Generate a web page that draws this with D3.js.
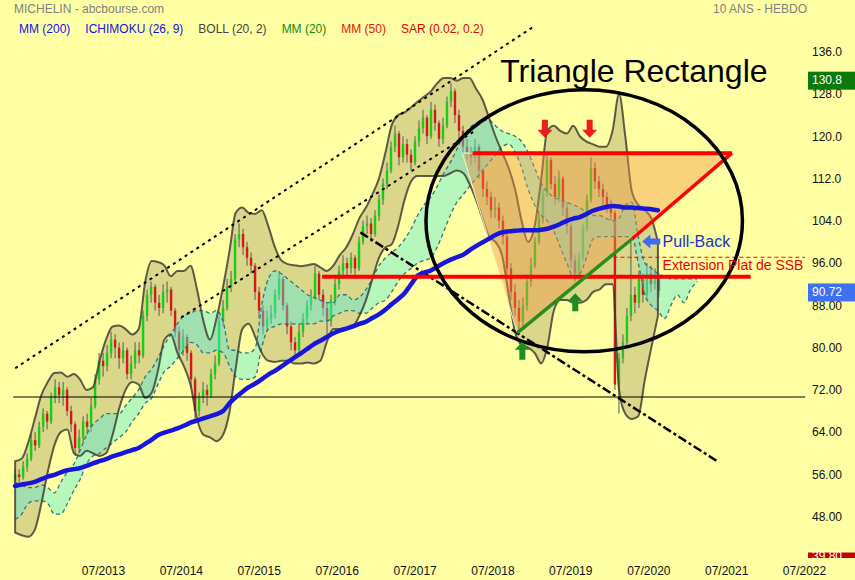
<!DOCTYPE html>
<html><head><meta charset="utf-8">
<script src="https://cdn.jsdelivr.net/npm/d3@7"></script>
<style>
html,body{margin:0;padding:0;background:#ffffa5;}
svg{display:block;font-family:"Liberation Sans",Arial,sans-serif;}
</style></head><body>
<svg id="c" width="855" height="580"></svg>
<script>
// ---------- DATA ----------
const candleStart = new Date(2012, 4, 15);
const candleStepDays = 18.75;
const firstOpen = 55;
const close = [56,55.5,57.5,59,62.5,61.5,65,67.5,66,70.5,
72.5,71,72,68,65.5,61,63,66,65,69,
74,77.5,76.5,79,81.5,80,78,79.5,75,77,
79.5,78.5,86,90,91.5,88.5,87.5,90.5,91,87,
83,79.5,82,79,74,68,70.5,72,71,75,
77,85,87.5,91.5,93,100.5,101.5,99,97,95.5,
90.5,87,84,85.5,86.5,90,93,88,84,81,
79.5,83,85.5,88,89.5,94,90,87.5,85,89,
92,94.5,96,95,97,95,100,103,103.5,101.5,
105,108,111,113.5,118,120.5,116,118.5,116.5,115,
119,121.5,123.5,120,125,122.5,119.5,122,126.5,128.5,
124,121,118,117,116,118,113.5,110,108.5,106,
106.5,104,101,95,90.5,87.5,85,88,92.5,95.5,
100,104.5,109,115.5,111,108.5,112,106.5,103,96.5,
94,97,102.5,108,114,111.5,110,108.5,107,105.5,
73,78,81,86,90,88.5,93,90,94,92,
93.5,90.7];
const high = [57,57,58.5,60,63.5,64,66,68.5,68,71.5,
74,73.5,73.5,72.5,69,66,64.5,67,67.5,70.5,
75,79,79,80.5,83,82.5,81,81,80,78.5,
81,81,87,91,92.5,92,90,92,92.5,91.5,
87.5,84,83.5,82.5,79.5,74.5,71.5,73.5,73,76,
78.5,86,89,93,94.5,101.5,103.5,102.5,100,98,
96,91.5,88,87,88,91,94.5,93.5,88.5,85,
82,84.5,86.5,89,91,95.5,94.5,91,88.5,90,
93,95.5,97.5,97,98,97.5,101,104,105,104.5,
106,109,112,115,119,122,121,120,119.5,117.5,
120,123,125,124,126.5,126,123,123.5,127.5,130,
129,125,122,119.5,118,119.5,118.5,114,111.5,109.5,
108.5,107.5,105,101.5,96,92,89,89.5,93.5,97,
101,105.5,110,117,116,112.5,113.5,112.5,107.5,103.5,
97.5,98,103.5,109,116,115,112.5,111,109.5,108,
106,79,82.5,87.5,100,91.5,94.5,94,96,95.5,
95,94];
const low = [54.5,54.5,55,56.5,58.5,60.5,61,64,64.5,65.5,
69.5,69.5,69,67,64,59.5,60,62,63.5,64,
68.5,73,74.5,75.5,78,78,76,77,74,74,
76,77,78,85,88.5,87,86,86.5,88.5,86,
82,78,78.5,77.5,72.5,66,67,69.5,69,70.5,
74,76.5,84,87,90.5,92.5,99,97.5,95.5,94,
89,85.5,82.5,83,84.5,85.5,89,87,82.5,79.5,
78.5,79,82,84.5,87,89,89,86,82.5,84,
88,91,93.5,93.5,94,93,94.5,99.5,101.5,100,
101,104,107,110,113,117,114.5,115,115,113.5,
114.5,118,120.5,118.5,119.5,121,118,118.5,121.5,125.5,
122.5,119.5,116.5,115.5,114.5,115,112,108.5,107,104.5,
104.5,102.5,99.5,93.5,89,86,83,84,87,91.5,
95,99.5,103.5,108.5,110,107,107.5,105,101.5,95,
92.5,93,96.5,102,107.5,110,108.5,107,105.5,104,
72,67.5,77,80,85,86.5,87.5,88.5,89,90.5,
91,89.5];

// monthly indicator series, first month = May 2012
const bollUpper = [58.5,59,62,66.5,71,73.5,75.2,75.3,74.5,75,
74,72,72.5,77.5,81.5,84,84.2,83.5,82.5,83.5,
92.5,96.4,96.2,95.5,93.5,94.5,94.5,95.5,91,85,
81.5,85.5,91.5,98.5,105.5,106.5,105.5,105.3,106,103,
99,96.5,95.8,95.6,95.4,95.6,95.8,95.2,94.5,95.5,
97.5,99,101.5,104.5,106.5,109,112,117,122,124,
124.5,125.5,126.5,127.5,128.5,130,131,131,130.5,131,
131,129,127,123.5,120,117,114,110,104,100,
103,112,121,122,121,120.5,122,120,119,118.5,
118,118,121,128,120,109.5,107,106,104.5,100];
const bollLower = [45,44.5,44.2,45.5,50.5,56.5,61.5,64,64.5,60,
59.5,60.5,60,59.5,60,63.5,68.5,72,73.5,73,
70.5,71.5,75.5,81.5,82.5,79,76.5,73,66.5,63.5,
63,62.3,63.5,68,76,83.5,84.5,82,79,77.5,
77.3,77.5,77.5,77,77,77.2,77,77.5,81,83.5,
83.5,83.5,84,86,89,93,97,99,99.5,103,
108,111.5,112.5,112.5,112.5,112.5,112.5,113,113.5,113,
111,108,104.5,101,100,97.5,90,83,80.5,80,
79,77,80,87,89,89,88.5,88.5,89,90.5,
91,92,92,72,67.5,66.5,67,74,80,86];
const mm200 = [53.8,54.1,54.3,54.6,55.1,55.6,55.9,56.4,56.8,57,
57.2,57.6,58.1,58.5,58.9,59.4,59.8,60.2,60.6,61,
61.8,62.6,63.4,63.9,64.3,64.7,65.2,65.8,66.2,66.6,
67,67.4,68,69.5,70.6,71.6,72.5,73.2,74,74.9,
75.6,76.4,77.3,78.1,78.9,79.8,80.6,81.3,82,82.7,
83.2,83.6,84,84.5,84.9,85.6,86.3,87.2,88.2,89.2,
90.3,92,93.6,94.2,94.6,95.3,96,96.6,97.1,97.6,
98.4,99.2,99.9,100.6,101.3,101.8,102,102.1,102.2,102.2,
102.2,102.3,102.5,102.9,103.4,104,104.4,104.7,105.3,105.9,
106.3,106.6,106.8,106.7,106.5,106.5,106.4,106.3,106.2,106];
const cloudTop = [54.5,54,53.5,53.5,54,53.5,52.5,54.5,56.5,58,
60.5,63.5,65.5,66.5,67.5,67.5,67.5,69,70.5,72,
74.5,76,78,80.5,82.5,84.5,86,86.5,87,87,
86.5,87,85,79.5,79.5,79,79,80,88,93,
94.5,94,93,92,91,90,89.5,89,88.5,88.5,
90,90,89,89.5,91,93,95.5,97,98,99,
100.5,102.5,105,107,108.5,110.5,113,115,117.5,120,
121.5,122.5,123,123,122,121,120.5,120,119,117,
114,111,109.5,108.5,108,107.5,107,106.5,105.5,105,
105,104.5,104,104.5,107,107.5,101,96,95,94,
93.5,93,93,93,93,93];
const cloudBot = [47.5,48.5,50.5,51,51,50.5,48.5,48.5,50.5,53,
55,58,59.5,60,61,62,63,64,66,67.5,
69.5,70.5,73,75.5,76.5,78,79.5,81,80.5,79,
79,79.5,79,76.5,74.5,74,74,74.5,80,83.5,
84,84.5,84.5,84.5,84.5,84.5,84.5,85,85,86,
86.5,87,87,86.5,86.5,87.5,88.5,89,90.5,92.5,
94,95,96,96.5,97,99,102,105,107.5,109,
110.5,112,113.5,115,116.5,118,118.5,117,114,110,
107,105,104,102,99,96,93.5,94,97,100.5,
101,101,101,101,101,101,96,90,88,87,
85.5,88,90,88.5,91,92.5];

const yTicks = [136,128,120,112,104,96,88,80,72,64,56,48];
const yTickLabels = ["136.0","128.0","120.0","112.0","104.0","96.00","88.00","80.00","72.00","64.00","56.00","48.00"];
const xTickLabels = ["07/2013","07/2014","07/2015","07/2016","07/2017","07/2018","07/2019","07/2020","07/2021","07/2022"];
const legendLabels = ["MM (200)","ICHIMOKU (26, 9)","BOLL (20, 2)","MM (20)","MM (50)","SAR (0.02, 0.2)"];
const legendColors = ["#1414ee","#1414dd","#444444","#118811","#ee1111","#dd0000"];
const priceTags = [{v:130.8,t:"130.8",c:"#0b7a0b"},{v:90.72,t:"90.72",c:"#3f6ff2"},{v:39.8,t:"39.80",c:"#c40000"}];

// annotations (decimal year, value)
const channelUpper = [[2012.37,76.1],[2019.02,140.7]];
const channelLower = [[2014.50,85.7],[2018.27,121.0]];
const downTrend = [[2016.80,101.8],[2021.38,58.5]];
const hLine72 = [[2012.345,70.65],[2022.51,70.65]];
const triangle = [[2018.11,116.8],[2021.57,116.8],[2018.815,82.8]];
const resistance = [[2018.24,116.8],[2021.57,116.8]];
const neckline = [[2016.31,93.4],[2021.81,93.4]];
const riseGreen = [[2018.815,82.8],[2020.29,100.6]];
const riseRed = [[2020.29,100.6],[2021.57,116.8]];
const ssbExt = [[2020.05,97.1],[2022.51,97.1]];
const ellipseC = [2019.675,104.0], ellipseRx = 2.03, ellipseRy = 24.8;
const upArrows = [[2018.88,81.1],[2019.56,90.3]];
const downArrows = [[2019.17,119.7],[2019.745,119.7]];
const pullBackTip = [2020.42,100.1];
const pullBackText = [2020.68,99.0];
const extText = [2020.68,94.7];
const titlePos = [2018.595,130.3];

// ---------- CHART ----------
const svg = d3.select('#c');
const W = 855, H = 580;
const FONT = '"Liberation Sans",Arial,sans-serif';
const x = d3.scaleTime().domain([new Date(2013,6,1), new Date(2022,6,1)]).range([103,804]);
const y = d3.scaleLinear().domain([48,136]).range([516.7,51.7]);
const fromYear = t => { const y0 = Math.floor(t); const a = new Date(y0,0,1), b = new Date(y0+1,0,1); return new Date(a.getTime() + (t-y0)*(b-a)); };
const P = ([t,v]) => [x(fromYear(t)), y(v)];
const monthDate = m => new Date(2012, 4+m, 15);

svg.append('rect').attr('width',W).attr('height',H).attr('fill','#ffffa3');

// Bollinger fill
const band = bollUpper.map((u,i)=>({d:monthDate(i),u,l:bollLower[i]}));
const bandArea = d3.area().x(d=>x(d.d)).y0(d=>y(d.l)).y1(d=>y(d.u)).curve(d3.curveMonotoneX);
svg.append('path').datum(band).attr('d',bandArea).attr('fill','rgba(168,158,105,0.42)');

// candles
const candles = close.map((c,k)=>{
  const o = k ? close[k-1] : firstOpen;
  return {d:new Date(candleStart.getTime()+k*candleStepDays*864e5), o, c, h:Math.max(high[k],o,c), l:Math.min(low[k],o,c)};
});
const gc = svg.append('g');
gc.selectAll('line').data(candles).join('line')
  .attr('x1',d=>x(d.d)).attr('x2',d=>x(d.d))
  .attr('y1',d=>y(d.h)).attr('y2',d=>y(d.l))
  .attr('stroke','#5a5a5a').attr('stroke-width',1);
gc.selectAll('rect').data(candles).join('rect')
  .attr('x',d=>x(d.d)-1.2).attr('width',2.4)
  .attr('y',d=>y(Math.max(d.o,d.c)))
  .attr('height',d=>Math.max(1,Math.abs(y(d.o)-y(d.c))))
  .attr('fill',d=>d.c>=d.o?'#18cc18':'#d21a1a');

// Ichimoku cloud
const cloud = cloudTop.map((t,i)=>({d:monthDate(i),a:t,b:cloudBot[i]}));
const cloudArea = d3.area().x(d=>x(d.d)).y0(d=>y(d.b)).y1(d=>y(d.a)).curve(d3.curveMonotoneX);
svg.append('path').datum(cloud).attr('d',cloudArea).attr('fill','rgba(80,235,225,0.42)');
['a','b'].forEach(k=>{
  svg.append('path').datum(cloud)
    .attr('d',d3.line().x(d=>x(d.d)).y(d=>y(d[k])).curve(d3.curveMonotoneX))
    .attr('fill','none').attr('stroke','#2f7878').attr('stroke-width',1.3).attr('stroke-dasharray','4,3');
});

// Bollinger outline
svg.append('path').datum(band).attr('d',d=>bandArea(d)).attr('fill','none')
  .attr('stroke','rgba(55,55,45,0.8)').attr('stroke-width',2);

// lines helper
const seg = (pts, stroke, w, dash) => {
  const l = svg.append('path').attr('d', d3.line()(pts.map(P))).attr('fill','none')
    .attr('stroke',stroke).attr('stroke-width',w);
  if (dash) l.attr('stroke-dasharray',dash);
  return l;
};
seg(channelUpper,'#000',2,'3,4');
seg(channelLower,'#000',2,'3,4');
seg(downTrend,'#000',2.5,'9,3,3,3');
seg(hLine72,'#000',1);

// triangle
svg.append('path').attr('d', d3.line()(triangle.map(P))+'Z')
  .attr('fill','rgba(240,150,70,0.42)').attr('stroke','#fff1c8').attr('stroke-width',1);

// MM200 (drawn above the triangle so it stays blue)
svg.append('path').datum(mm200.map((v,i)=>({d:monthDate(i),v})))
  .attr('d',d3.line().x(d=>x(d.d)).y(d=>y(d.v)).curve(d3.curveMonotoneX))
  .attr('fill','none').attr('stroke','#1616dc').attr('stroke-width',4.5).attr('stroke-linecap','round');

seg(resistance,'#ff0000',4);
seg(neckline,'#ff0000',4);
seg(riseGreen,'#2a8c1a',3.5);
seg(riseRed,'#ff0000',3.5);
seg(ssbExt,'#ff0000',1,'4,3');

// ellipse
const [ecx,ecy] = P(ellipseC);
svg.append('ellipse').attr('cx',ecx).attr('cy',ecy)
  .attr('rx', P([ellipseC[0]+ellipseRx, ellipseC[1]])[0]-ecx)
  .attr('ry', P([ellipseC[0], ellipseC[1]-ellipseRy])[1]-ecy)
  .attr('fill','none').attr('stroke','#000').attr('stroke-width',3.5);

// arrows
const upShape = [[0,0],[7.5,8],[3,8],[3,18],[-3,18],[-3,8],[-7.5,8]];
const downShape = upShape.map(([a,b])=>[a,-b]);
const leftShape = [[0,0],[8,-7],[8,-3],[18,-3],[18,3],[8,3],[8,7]];
const arrow = (tip, shape, fill) => {
  const [tx,ty] = P(tip);
  svg.append('polygon').attr('points', shape.map(([a,b])=>(tx+a)+','+(ty+b)).join(' ')).attr('fill',fill);
};
upArrows.forEach(p=>arrow(p,upShape,'#1f8c1f'));
downArrows.forEach(p=>arrow(p,downShape,'#ee1c1c'));
arrow(pullBackTip,leftShape,'#3c6cf0');

// annotation texts
const txt = (pos, s, size, fill) => {
  const [tx,ty] = P(pos);
  return svg.append('text').attr('x',tx).attr('y',ty).attr('font-size',size).attr('fill',fill).attr('font-family',FONT).text(s);
};
txt(pullBackText,'Pull-Back',16,'#2233cc');
txt(extText,'Extension Plat de SSB',14,'#ee0000');
txt(titlePos,'Triangle Rectangle',32,'#000');

// y axis
const ya = svg.append('g').attr('transform','translate(812,0)')
  .call(d3.axisRight(y).tickValues(yTicks).tickFormat((d,i)=>yTickLabels[i]).tickSize(0).tickPadding(0));
ya.select('.domain').remove();
ya.selectAll('text').attr('font-size',12).attr('font-family',FONT).attr('fill','#111');

// x axis
const xDates = xTickLabels.map(s=>{const [mm,yy]=s.split('/'); return new Date(+yy, +mm-1, 1);});
const xa = svg.append('g').attr('transform','translate(0,566.5)')
  .call(d3.axisBottom(x).tickValues(xDates).tickFormat((d,i)=>xTickLabels[i]).tickSize(0).tickPadding(0));
xa.select('.domain').remove();
xa.selectAll('text').attr('font-size',12).attr('font-family',FONT).attr('fill','#111');

// price tags (the lowest one is cut by the time-axis strip, as in the reference)
const clipBottom = 558;
svg.append('clipPath').attr('id','tagclip').append('rect').attr('x',0).attr('y',0).attr('width',W).attr('height',clipBottom);
const gt = svg.append('g').attr('clip-path','url(#tagclip)');
priceTags.forEach(p=>{
  const yy = y(p.v);
  gt.append('rect').attr('x',808).attr('y',yy-7.5).attr('width',47).attr('height',18).attr('fill',p.c);
  gt.append('text').attr('x',812).attr('y',Math.min(yy+5, clipBottom+2)).attr('font-size',12).attr('font-family',FONT).attr('fill','#fff').text(p.t);
});

// header texts
svg.append('text').attr('x',14).attr('y',13).attr('font-size',12).attr('font-family',FONT).attr('fill','#808080').text('MICHELIN - abcbourse.com');
svg.append('text').attr('x',713).attr('y',13).attr('font-size',12).attr('font-family',FONT).attr('fill','#808080').text('10 ANS - HEBDO');
let lx = 19;
legendLabels.forEach((s,i)=>{
  const t = svg.append('text').attr('x',lx).attr('y',33).attr('font-size',12).attr('font-family',FONT).attr('fill',legendColors[i]).text(s);
  lx += t.node().getComputedTextLength() + 15;
});
</script>
</body></html>
